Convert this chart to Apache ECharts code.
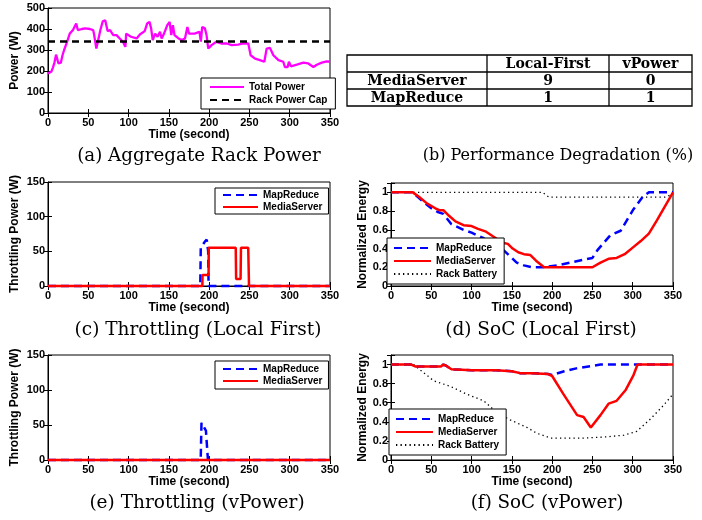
<!DOCTYPE html>
<html>
<head>
<meta charset="utf-8">
<title>vPower rack power</title>
<script src="https://cdn.jsdelivr.net/npm/echarts@6/dist/echarts.min.js"></script>
<style>
  html, body { margin: 0; padding: 0; background: #fff; }
  #chart { width: 702px; height: 520px; }
</style>
</head>
<body>
<div id="chart"></div>
<script>
// (a) aggregate rack power
const aggTime = [0, 4, 6, 8, 10, 12, 13, 16, 18, 20, 22, 24, 27, 31, 35, 37, 42, 46, 52, 56, 57, 60, 62, 65, 68, 71, 74, 77, 81, 85, 89, 93, 96, 97, 103, 110, 114, 120, 123, 126, 128, 130, 133, 136, 139, 141, 144, 148, 151, 153, 155, 157, 162, 166, 170, 173, 175, 177, 182, 188, 189.7, 191.4, 194.7, 196.8, 198.9, 203, 209, 215, 222, 228, 236, 242, 248.6, 251.5, 257, 263, 268.5, 271.4, 275.5, 279.7, 286, 292, 294, 297.5, 299, 301.6, 308.7, 317, 323, 329.4, 333.6, 339.8, 346, 350];
const aggPower = [188, 196, 215, 240, 278, 280, 236, 240, 275, 300, 307, 342, 378, 395, 426, 395, 400, 403, 400, 395, 378, 307, 342, 395, 437, 442, 390, 395, 371, 371, 355, 339, 315, 378, 363, 355, 374, 390, 426, 434, 403, 347, 378, 363, 387, 355, 378, 418, 434, 371, 418, 371, 355, 347, 355, 410, 378, 378, 378, 387, 340, 410, 403, 371, 307, 323, 339, 331, 331, 323, 326, 331, 331, 275, 259, 252, 244, 307, 310, 275, 252, 244, 219, 219, 244, 222, 230, 240, 236, 219, 230, 240, 246, 244];
const capTime = [0, 350];
const capPower = [340, 340];

// (b) performance degradation table (%)
const tableHeader = ['', 'Local-First', 'vPower'];
const tableApps = ['MediaServer', 'MapReduce'];
const degLocalFirst = [9, 1];
const degVPower = [0, 1];

// (c) throttling, local first
const thrLfMapTime = [0, 189, 189.6, 194.7, 197, 198.8, 199.3, 350];
const thrLfMapVal = [0, 0, 55, 64, 67, 50, 0, 0];
const thrLfMediaTime = [0, 191.6, 191.8, 196.6, 199.3, 199.5, 233, 233.5, 239, 239.5, 248.5, 249.5, 350];
const thrLfMediaVal = [0, 0, 16, 16, 16, 55, 55, 10, 10, 55, 55, 0, 0];

// (d) SoC, local first
const socLfMapTime = [0, 27, 40, 50, 58, 65, 75, 90, 100, 115, 125, 140, 156, 165, 175, 190, 206, 239, 250, 256, 272, 285, 301, 313, 320, 350];
const socLfMapVal = [1, 1, 0.9, 0.83, 0.79, 0.77, 0.66, 0.6, 0.57, 0.51, 0.46, 0.38, 0.25, 0.22, 0.2, 0.2, 0.22, 0.28, 0.3, 0.38, 0.54, 0.59, 0.82, 0.96, 1, 1];
const socLfMediaTime = [0, 27, 35, 45, 55, 60, 65, 72, 80, 90, 100, 108, 118, 125, 132, 140, 145, 151, 158, 165, 173, 180, 190, 250, 260, 270, 280, 290, 300, 310, 320, 330, 340, 350];
const socLfMediaVal = [1, 1, 0.95, 0.88, 0.83, 0.81, 0.81, 0.75, 0.69, 0.65, 0.64, 0.61, 0.58, 0.54, 0.5, 0.46, 0.45, 0.4, 0.36, 0.34, 0.33, 0.27, 0.2, 0.2, 0.25, 0.29, 0.3, 0.34, 0.41, 0.48, 0.56, 0.7, 0.85, 1];
const socLfRackTime = [0, 188, 196, 340, 350];
const socLfRackVal = [1, 1, 0.95, 0.95, 0.98];

// (e) throttling, vPower
const thrVpMapTime = [0, 189.5, 190.5, 192, 196, 198.5, 350];
const thrVpMapVal = [0, 0, 53, 53, 42, 0, 0];
const thrVpMediaTime = [0, 350];
const thrVpMediaVal = [0, 0];

// (f) SoC, vPower
const socVpMapTime = [0, 25, 30, 62, 65, 68, 75, 100, 130, 150, 160, 175, 195, 200, 215, 230, 245, 260, 350];
const socVpMapVal = [1, 1, 0.98, 0.98, 1, 0.99, 0.95, 0.94, 0.94, 0.93, 0.91, 0.91, 0.9, 0.89, 0.93, 0.96, 0.98, 1, 1];
const socVpMediaTime = [0, 25, 30, 62, 65, 68, 75, 100, 130, 150, 160, 175, 195, 200, 214, 231, 239, 248, 260, 270, 280, 291, 301, 306, 350];
const socVpMediaVal = [1, 1, 0.98, 0.98, 1, 0.99, 0.95, 0.94, 0.94, 0.93, 0.91, 0.91, 0.9, 0.88, 0.69, 0.47, 0.45, 0.34, 0.47, 0.59, 0.62, 0.73, 0.89, 1, 1];
const socVpRackTime = [0, 28, 53, 74, 94, 115, 131, 148, 169, 181, 198, 239, 264, 289, 305, 322, 338, 350];
const socVpRackVal = [1, 1, 0.83, 0.77, 0.69, 0.62, 0.5, 0.42, 0.34, 0.28, 0.23, 0.23, 0.24, 0.26, 0.3, 0.43, 0.57, 0.69];

const captions = [
  '(a) Aggregate Rack Power', '(b) Performance Degradation (%)',
  '(c) Throttling (Local First)', '(d) SoC (Local First)',
  '(e) Throttling (vPower)', '(f) SoC (vPower)'
];

const zip = (xs, ys) => xs.map((x, i) => [x, ys[i]]);

const SANS = '"Liberation Sans", Arial, sans-serif';
const SERIF = '"DejaVu Serif", serif';

// grid order: a, c, d, e, f
const panels = [
  { left: 48,  top: 8,   height: 105, yMax: 500, yInt: 100, yName: 'Power (W)',            nameGap: 27 },
  { left: 48,  top: 182, height: 104, yMax: 150, yInt: 50,  yName: 'Throttling Power (W)', nameGap: 27 },
  { left: 391, top: 183, height: 103, yMax: 1.1, yInt: 0.2, yName: 'Normalized Energy',    nameGap: 22 },
  { left: 48,  top: 355, height: 105, yMax: 150, yInt: 50,  yName: 'Throttling Power (W)', nameGap: 27 },
  { left: 391, top: 355, height: 105, yMax: 1.1, yInt: 0.2, yName: 'Normalized Energy',    nameGap: 22 },
];

const grid = panels.map(p => ({
  left: p.left, top: p.top, width: 282, height: p.height,
  show: true, borderColor: '#000', borderWidth: 1, backgroundColor: '#fff',
  outerBoundsMode: 'none', containLabel: false
}));

const tickStyle = { show: true, inside: true, length: 4, lineStyle: { color: '#000', width: 1 } };
const labelStyle = { color: '#000', fontSize: 11, fontWeight: 'bold', fontFamily: SANS };
const nameStyle = { color: '#000', fontSize: 12, fontWeight: 'bold', fontFamily: SANS };

const xAxis = [];
const yAxis = [];
panels.forEach((p, i) => {
  xAxis.push({
    type: 'value', gridIndex: i, min: 0, max: 350, interval: 50,
    name: 'Time (second)', nameLocation: 'middle', nameGap: 16, nameTextStyle: nameStyle,
    axisLine: { show: true, lineStyle: { color: '#000', width: 1 } },
    axisTick: tickStyle, axisLabel: Object.assign({ margin: 4 }, labelStyle),
    splitLine: { show: false }
  });
  yAxis.push({
    type: 'value', gridIndex: i, min: 0, max: p.yMax, interval: p.yInt,
    name: p.yName, nameLocation: 'middle', nameGap: p.nameGap, nameTextStyle: nameStyle,
    axisLine: { show: true, lineStyle: { color: '#000', width: 1 } },
    axisTick: tickStyle,
    axisLabel: Object.assign({ margin: 3, formatter: v => (v > p.yMax - p.yInt / 2 && p.yMax % p.yInt !== 0) ? '' : String(v) }, labelStyle),
    splitLine: { show: false }
  });
});
// mirrored ticks on top and right, like a matlab box
panels.forEach((p, i) => {
  xAxis.push({
    type: 'value', gridIndex: i, min: 0, max: 350, interval: 50, position: 'top',
    axisLine: { show: false }, axisTick: tickStyle, axisLabel: { show: false }, splitLine: { show: false }
  });
  yAxis.push({
    type: 'value', gridIndex: i, min: 0, max: p.yMax, interval: p.yInt, position: 'right',
    axisLine: { show: false }, axisTick: tickStyle, axisLabel: { show: false }, splitLine: { show: false }
  });
});

const BLUE = { color: '#0000ff', width: 2.5, type: [8, 5] };
const RED = { color: '#ff0000', width: 2.5, type: 'solid' };
const DOT = { color: '#000', width: 1.3, type: [1.3, 3.2] };

function line(name, idx, xs, ys, ls) {
  return {
    name, type: 'line', xAxisIndex: idx, yAxisIndex: idx,
    data: zip(xs, ys), symbol: 'none', showSymbol: false,
    lineStyle: ls, itemStyle: { color: ls.color }, clip: false, silent: true
  };
}

const series = [
  line('Total Power', 0, aggTime, aggPower, { color: '#ff00ff', width: 2.3, type: 'solid' }),
  line('Rack Power Cap', 0, capTime, capPower, { color: '#000', width: 2.5, type: [7, 5] }),
  line('MapReduce', 1, thrLfMapTime, thrLfMapVal, BLUE),
  line('MediaServer', 1, thrLfMediaTime, thrLfMediaVal, RED),
  line('Rack Battery', 2, socLfRackTime, socLfRackVal, DOT),
  line('MapReduce', 2, socLfMapTime, socLfMapVal, BLUE),
  line('MediaServer', 2, socLfMediaTime, socLfMediaVal, RED),
  line('MapReduce', 3, thrVpMapTime, thrVpMapVal, BLUE),
  line('MediaServer', 3, thrVpMediaTime, thrVpMediaVal, RED),
  line('Rack Battery', 4, socVpRackTime, socVpRackVal, DOT),
  line('MapReduce', 4, socVpMapTime, socVpMapVal, BLUE),
  line('MediaServer', 4, socVpMediaTime, socVpMediaVal, RED),
];

function legendBox(names, left, top, itemWidth, itemGap, padding) {
  return {
    data: names, left, top, orient: 'vertical', selectedMode: false,
    itemWidth, itemHeight: 12, itemGap, padding,
    itemStyle: { opacity: 0 },
    backgroundColor: '#fff', borderColor: '#000', borderWidth: 1, borderRadius: 0,
    textStyle: { color: '#000', fontSize: 10, fontWeight: 'bold', fontFamily: SANS }
  };
}

const legend = [
  legendBox(['Total Power', 'Rack Power Cap'], 201, 78, 34, 3, [4, 8, 4, 8]),
  legendBox(['MapReduce', 'MediaServer'], 215, 188, 35, 2, [2, 6, 2, 7]),
  legendBox(['MapReduce', 'MediaServer', 'Rack Battery'], 387, 238, 37, 3, [5, 7, 5, 6]),
  legendBox(['MapReduce', 'MediaServer'], 215, 361, 35, 2, [3, 6, 3, 7]),
  legendBox(['MapReduce', 'MediaServer', 'Rack Battery'], 389, 409, 37, 3, [5, 7, 5, 6]),
];

// table (b) and captions
const graphic = [];
const colX = [347, 487, 609, 692];
const rowY = [55, 72, 89, 106];
const tbl = { stroke: '#000', lineWidth: 1.3 };
graphic.push({ type: 'rect', shape: { x: colX[0], y: rowY[0], width: colX[3] - colX[0], height: rowY[3] - rowY[0] }, style: Object.assign({ fill: 'none' }, tbl) });
[1, 2].forEach(r => graphic.push({ type: 'line', shape: { x1: colX[0], y1: rowY[r], x2: colX[3], y2: rowY[r] }, style: tbl }));
[1, 2].forEach(c => graphic.push({ type: 'line', shape: { x1: colX[c], y1: rowY[0], x2: colX[c], y2: rowY[3] }, style: tbl }));
const cellText = (text, c, r) => graphic.push({
  type: 'text', x: (colX[c] + colX[c + 1]) / 2, y: (rowY[r] + rowY[r + 1]) / 2 + 0.5,
  style: { text: String(text), fill: '#000', font: 'bold 14px ' + SERIF, align: 'center', verticalAlign: 'middle' }
});
tableHeader.forEach((h, c) => cellText(h, c, 0));
tableApps.forEach((app, r) => {
  cellText(app, 0, r + 1);
  cellText(degLocalFirst[r], 1, r + 1);
  cellText(degVPower[r], 2, r + 1);
});

const capPos = [[199, 156, 18.3], [558, 156, 16], [198, 330, 18.5], [541, 330, 18.5], [197, 503, 18.5], [547, 503, 18.3]];
captions.forEach((t, i) => graphic.push({
  type: 'text', x: capPos[i][0], y: capPos[i][1],
  style: { text: t, fill: '#000', font: capPos[i][2] + 'px ' + SERIF, align: 'center', verticalAlign: 'middle' }
}));

const chart = echarts.init(document.getElementById('chart'), null, { renderer: 'canvas' });
chart.setOption({
  animation: false,
  backgroundColor: '#fff',
  grid, xAxis, yAxis, series, legend, graphic
});
window.addEventListener('resize', () => chart.resize());
</script>
</body>
</html>
